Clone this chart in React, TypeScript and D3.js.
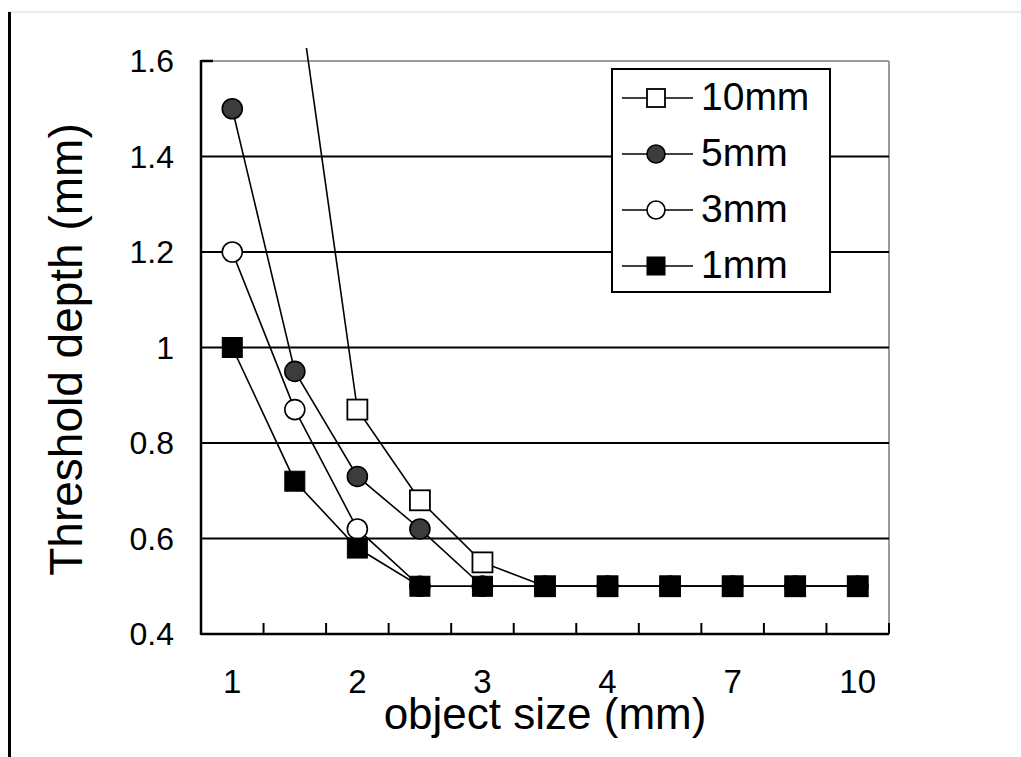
import React from "react";
import * as d3 from "d3";

const categories = ["1", "1.5", "2", "2.5", "3", "3.5", "4", "5.5", "7", "8.5", "10"];
const tickLabels = ["1", "", "2", "", "3", "", "4", "", "7", "", "10"];
const yTicks = [0.4, 0.6, 0.8, 1, 1.2, 1.4, 1.6];

const s10mm: (number | null)[] = [null, 1.8, 0.87, 0.68, 0.55, 0.5, 0.5, 0.5, 0.5, 0.5, 0.5];
const s5mm: (number | null)[] = [1.5, 0.95, 0.73, 0.62, 0.5, 0.5, 0.5, 0.5, 0.5, 0.5, 0.5];
const s3mm: (number | null)[] = [1.2, 0.87, 0.62, 0.5, 0.5, 0.5, 0.5, 0.5, 0.5, 0.5, 0.5];
const s1mm: (number | null)[] = [1.0, 0.72, 0.58, 0.5, 0.5, 0.5, 0.5, 0.5, 0.5, 0.5, 0.5];

const seriesNames = ["10mm", "5mm", "3mm", "1mm"];
const seriesValues = [s10mm, s5mm, s3mm, s1mm];
const seriesMarkers = ["openSquare", "filledCircle", "openCircle", "filledSquare"];

const FONT = "'Liberation Sans', Arial, sans-serif";

function Marker({ kind, x, y, size }: { kind: string; x: number; y: number; size: number }) {
  const h = size / 2;
  if (kind === "openSquare")
    return <rect x={x - h} y={y - h} width={size} height={size} fill="#fff" stroke="#000" strokeWidth={1.8} />;
  if (kind === "filledSquare")
    return <rect x={x - h} y={y - h} width={size} height={size} fill="#000" stroke="#000" strokeWidth={1} />;
  if (kind === "filledCircle")
    return <circle cx={x} cy={y} r={h} fill="#3c3c3c" stroke="#000" strokeWidth={1.6} />;
  return <circle cx={x} cy={y} r={h} fill="#fff" stroke="#000" strokeWidth={1.6} />;
}

export default function App() {
  const W = 1021, H = 757;
  const left = 201, right = 889, top = 61, bottom = 634;

  const x = d3.scaleBand<string>().domain(categories).range([left, right]).padding(0);
  const cx = (c: string) => (x(c) as number) + x.bandwidth() / 2;
  const y = d3.scaleLinear().domain([0.4, 1.6]).range([bottom, top]);

  const line = d3
    .line<number | null>()
    .defined((d) => d != null)
    .x((_, i) => cx(categories[i]))
    .y((d) => y(d as number));

  const boundaries = categories.map((c) => (x(c) as number) + x.bandwidth());

  const legX = 612, legY = 69, legW = 218, legH = 223;
  const legRow = [98, 154, 210, 266];

  return (
    <svg width={W} height={H} style={{ position: "absolute", left: 0, top: 0, display: "block" }}>
      <rect x={0} y={0} width={W} height={H} fill="#fff" />
      <line x1={8} x2={W} y1={12} y2={12} stroke="#e4e4e4" strokeWidth={1.5} />
      <line x1={9.5} x2={9.5} y1={12} y2={H} stroke="#000" strokeWidth={3} />

      <defs>
        <clipPath id="plotClip">
          <rect x={left} y={48} width={right - left} height={bottom - 48} />
        </clipPath>
      </defs>

      {/* top & right borders */}
      <line x1={left} x2={right} y1={top} y2={top} stroke="#9a9a9a" strokeWidth={2} />
      <line x1={right} x2={right} y1={top} y2={bottom} stroke="#9a9a9a" strokeWidth={2} />
      <line x1={left} x2={left + 12} y1={top} y2={top} stroke="#000" strokeWidth={2.5} />

      {/* gridlines */}
      {yTicks
        .filter((t) => t > 0.4 && t < 1.6)
        .map((t) => (
          <line key={t} x1={left} x2={right} y1={y(t)} y2={y(t)} stroke="#000" strokeWidth={2} />
        ))}

      {/* axes */}
      <line x1={left} x2={left} y1={top - 1} y2={bottom + 1} stroke="#000" strokeWidth={2.5} />
      <line x1={left} x2={right} y1={bottom} y2={bottom} stroke="#000" strokeWidth={2.5} />
      {boundaries.map((b, i) => (
        <line key={i} x1={b} x2={b} y1={bottom} y2={bottom - 11} stroke="#000" strokeWidth={2} />
      ))}

      {/* y tick labels */}
      {yTicks.map((t) => (
        <text key={t} x={174} y={y(t) + 11} textAnchor="end" fontFamily={FONT} fontSize={32} fill="#000">
          {d3.format("")(t)}
        </text>
      ))}

      {/* x tick labels */}
      {categories.map((c, i) =>
        tickLabels[i] ? (
          <text key={c} x={cx(c)} y={693} textAnchor="middle" fontFamily={FONT} fontSize={33} fill="#000">
            {tickLabels[i]}
          </text>
        ) : null
      )}

      {/* series */}
      <g clipPath="url(#plotClip)">
        {seriesValues.map((vals, si) => (
          <path key={si} d={line(vals) || ""} fill="none" stroke="#000" strokeWidth={1.6} />
        ))}
      </g>
      {seriesValues.map((vals, si) => (
        <g key={si}>
          {vals.map((v, i) =>
            v != null && v <= 1.6 ? (
              <Marker key={i} kind={seriesMarkers[si]} x={cx(categories[i])} y={y(v)} size={20} />
            ) : null
          )}
        </g>
      ))}

      {/* legend */}
      <rect x={legX} y={legY} width={legW} height={legH} fill="#fff" stroke="#000" strokeWidth={2} />
      {seriesNames.map((n, i) => (
        <g key={n}>
          <line x1={622} x2={693} y1={legRow[i]} y2={legRow[i]} stroke="#000" strokeWidth={1.6} />
          <Marker kind={seriesMarkers[i]} x={656} y={legRow[i]} size={18} />
          <text x={701} y={legRow[i] + 12} fontFamily={FONT} fontSize={39} fill="#000">
            {n}
          </text>
        </g>
      ))}

      {/* axis titles */}
      <text x={545} y={729} textAnchor="middle" fontFamily={FONT} fontSize={44} fill="#000">
        object size (mm)
      </text>
      <text
        transform={`translate(82, ${(top + bottom) / 2 + 2}) rotate(-90)`}
        textAnchor="middle"
        fontFamily={FONT}
        fontSize={46}
        fill="#000"
      >
        Threshold depth (mm)
      </text>
    </svg>
  );
}
